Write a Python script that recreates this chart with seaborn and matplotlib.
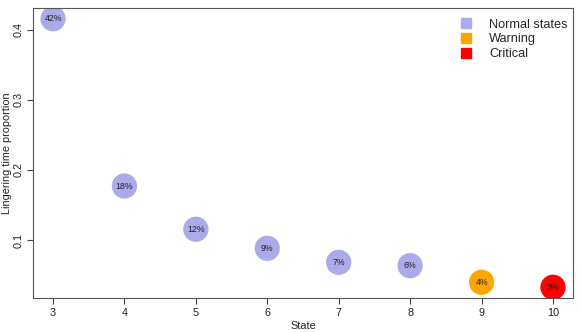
import matplotlib
matplotlib.use("Agg")
import matplotlib.pyplot as plt
import seaborn as sns
import pandas as pd
from matplotlib.lines import Line2D

states = [3, 4, 5, 6, 7, 8, 9, 10]
proportions = [0.4157, 0.1770, 0.1153, 0.0881, 0.0681, 0.0633, 0.0396, 0.0325]
labels = ["42%", "18%", "12%", "9%", "7%", "6%", "4%", "3%"]
groups = ["Normal states"] * 6 + ["Warning", "Critical"]
group_names = ["Normal states", "Warning", "Critical"]
group_colors = ["#ABABE9", "#FFA500", "#FF0000"]

df = pd.DataFrame({"State": states, "Proportion": proportions,
                   "Label": labels, "Group": groups})

sns.set_style("white")
plt.rcParams["font.family"] = ["Liberation Sans", "DejaVu Sans"]

fig = plt.figure(figsize=(5.81, 3.32), dpi=100)
ax = fig.add_axes([33/581, 34/332, 540/581, 290/332])

sns.scatterplot(data=df, x="State", y="Proportion", hue="Group",
                hue_order=group_names, palette=group_colors,
                s=330, linewidth=0, ax=ax, legend=False)

for x, y, t in zip(states, proportions, labels):
    ax.text(x, y, t, ha="center", va="center", fontsize=6.3, color="#222222")

rng = max(proportions) - min(proportions)
ax.set_xlim(3 - 0.28, 10 + 0.28)
ax.set_ylim(min(proportions) - 0.04 * rng, max(proportions) + 0.04 * rng)
ax.set_xticks(states)
ax.set_yticks([0.1, 0.2, 0.3, 0.4])
ax.set_yticklabels(["0.1", "0.2", "0.3", "0.4"], rotation=90, va="center")
ax.tick_params(axis="both", direction="out", length=4, width=0.8,
               color="#444444", labelsize=7.8, labelcolor="#222222", pad=3,
               bottom=True, left=True)
for sp in ax.spines.values():
    sp.set_color("#555555")
    sp.set_linewidth(0.8)
ax.set_xlabel("State", fontsize=7.8, color="#222222")
ax.set_ylabel("Lingering time proportion", fontsize=7.8, color="#222222")
ax.xaxis.set_label_coords(0.5, -(326 - 298) / 290)
ax.yaxis.set_label_coords(-(33 - 7) / 540, 0.5)
ax.xaxis.label.set_va("center")
ax.yaxis.label.set_va("center")

handles = [Line2D([0], [0], marker="s", linestyle="", markersize=7,
                  markerfacecolor=c, markeredgecolor=c) for c in group_colors]
ax.legend(handles, group_names, loc="upper right", frameon=False,
          fontsize=9.2, handletextpad=1.0, labelspacing=0.22,
          bbox_to_anchor=(1.0, 1 - 5.5 / 290), borderaxespad=0.0,
          handlelength=1.6)

fig.savefig("out.png", dpi=100)
